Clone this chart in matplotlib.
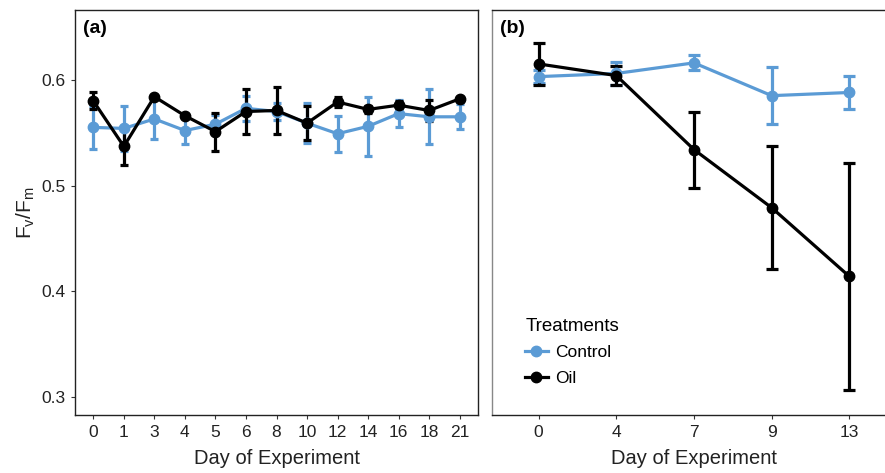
import matplotlib.pyplot as plt
from matplotlib.lines import Line2D
import numpy as np

plt.rcParams['font.family'] = ['Liberation Sans', 'DejaVu Sans']

# panel (a) data
days_a = ["0", "1", "3", "4", "5", "6", "8", "10", "12", "14", "16", "18", "21"]
ctrl_a = [0.555, 0.554, 0.563, 0.552, 0.558, 0.573, 0.570, 0.559, 0.549, 0.556, 0.568, 0.565, 0.565]
ctrl_a_err = [0.020, 0.021, 0.019, 0.013, 0.009, 0.012, 0.008, 0.019, 0.017, 0.028, 0.013, 0.026, 0.012]
oil_a = [0.580, 0.537, 0.584, 0.566, 0.551, 0.570, 0.571, 0.559, 0.579, 0.572, 0.576, 0.571, 0.582]
oil_a_err = [0.008, 0.018, 0.002, 0.002, 0.018, 0.021, 0.022, 0.016, 0.005, 0.003, 0.004, 0.010, 0.002]

# panel (b) data
days_b = ["0", "4", "7", "9", "13"]
ctrl_b = [0.603, 0.606, 0.616, 0.585, 0.588]
ctrl_b_err = [0.006, 0.011, 0.007, 0.027, 0.016]
oil_b = [0.615, 0.604, 0.534, 0.479, 0.414]
oil_b_err = [0.020, 0.009, 0.036, 0.058, 0.107]

blue = "#5b9bd5"
black = "#000000"

fig = plt.figure(figsize=(8.85, 4.73), dpi=100)
ax1 = fig.add_axes([75 / 885, 1 - 415 / 473, 403 / 885, 405 / 473])
ax2 = fig.add_axes([492 / 885, 1 - 415 / 473, 404 / 885, 405 / 473])


def draw(ax, days, ctrl, ctrl_err, oil, oil_err, lw, cap):
    x = np.arange(len(days))
    ax.errorbar(x, ctrl, yerr=ctrl_err, color=blue, marker="o", ms=7.5, lw=lw,
                elinewidth=lw, capsize=cap, capthick=lw)
    ax.errorbar(x, oil, yerr=oil_err, color=black, marker="o", ms=7.5, lw=lw,
                elinewidth=lw, capsize=cap, capthick=lw)
    ax.set_xticks(x)
    ax.set_xticklabels(days)
    ax.set_xlim(-0.6, len(days) - 0.4)
    ax.set_ylim(0.283, 0.666)
    ax.set_yticks([0.3, 0.4, 0.5, 0.6])
    ax.tick_params(labelsize=12.5, colors="#333333", length=3, width=0.8, pad=4)
    ax.tick_params(labelcolor="#222222")
    for s in ax.spines.values():
        s.set_color("#222222")
        s.set_linewidth(1.0)
    ax.set_xlabel("Day of Experiment", fontsize=14.5, color="#222222", labelpad=7)


draw(ax1, days_a, ctrl_a, ctrl_a_err, oil_a, oil_a_err, 2.3, 3)
draw(ax2, days_b, ctrl_b, ctrl_b_err, oil_b, oil_b_err, 2.3, 4)

ax1.set_ylabel(r"$\mathregular{F_v/F_m}$", fontsize=15, color="#222222", labelpad=3)
ax2.set_yticklabels([])
ax2.tick_params(axis="y", length=0)
ax2.spines["left"].set_color("#888888")

ax1.text(0.02, 0.975, "(a)", transform=ax1.transAxes, fontsize=14, fontweight="bold",
         va="top", ha="left")
ax2.text(0.02, 0.975, "(b)", transform=ax2.transAxes, fontsize=14, fontweight="bold",
         va="top", ha="left")

handles = [Line2D([], [], color=blue, marker="o", ms=7.5, lw=2.3),
           Line2D([], [], color=black, marker="o", ms=7.5, lw=2.3)]
leg = ax2.legend(handles, ["Control", "Oil"], title="Treatments", loc="lower left",
                 bbox_to_anchor=(0.065, 0.055), frameon=False, fontsize=12.5,
                 title_fontsize=13.5, handlelength=1.3, handletextpad=0.4,
                 labelspacing=0.6, borderaxespad=0)
leg._legend_box.align = "left"

fig.savefig("out.png", dpi=100)
